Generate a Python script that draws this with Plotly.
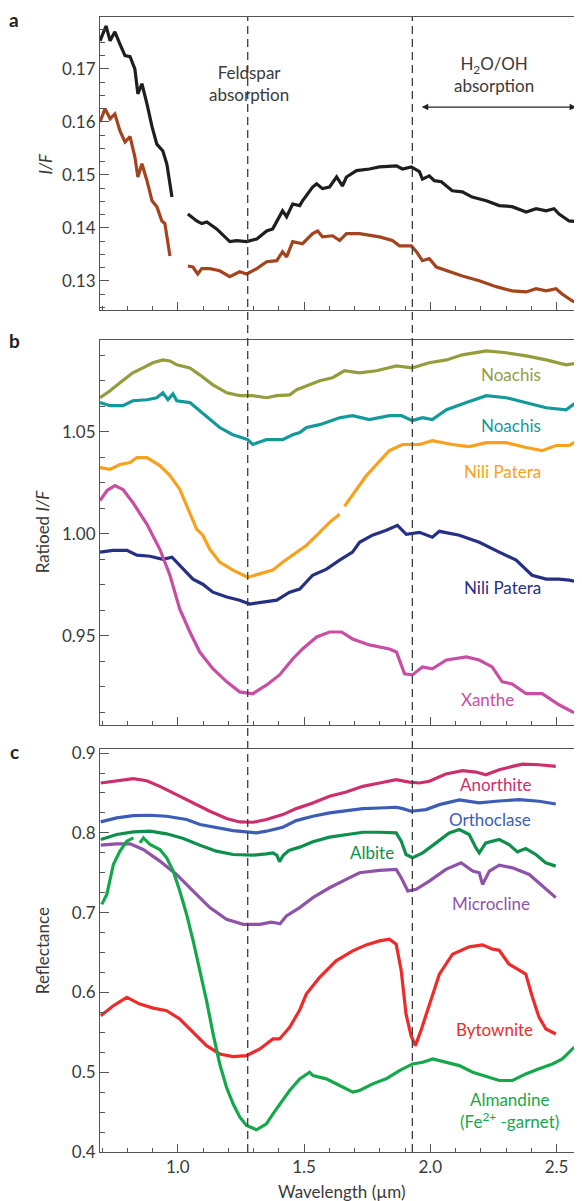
import plotly.graph_objects as go

# ---------------- Panel a : I/F ----------------
a_black_w = [0.692, 0.716, 0.732, 0.751, 0.771, 0.791, 0.811, 0.830, 0.842, 0.858, 0.878, 0.898, 0.917, 0.941, 0.957, 0.977,
             None,
             1.040, 1.075, 1.095, 1.115, 1.154, 1.206, 1.233, 1.273, 1.313, 1.352, 1.376, 1.415, 1.431, 1.455, 1.483, 1.494,
             1.534, 1.550, 1.573, 1.601, 1.629, 1.652, 1.668, 1.708, 1.759, 1.799, 1.866, 1.890, 1.925, 1.957, 1.969, 1.996,
             2.016, 2.044, 2.064, 2.087, 2.127, 2.166, 2.222, 2.273, 2.324, 2.380, 2.419, 2.459, 2.490, 2.510, 2.550, 2.590]
a_black_v = [0.1753, 0.1781, 0.1753, 0.1770, 0.1747, 0.1725, 0.1723, 0.1700, 0.1653, 0.1672, 0.1634, 0.1591, 0.1558, 0.1545, 0.1520, 0.1458,
             None,
             0.1426, 0.1413, 0.1408, 0.1411, 0.1398, 0.1374, 0.1376, 0.1374, 0.1379, 0.1394, 0.1398, 0.1432, 0.1421, 0.1445, 0.1442, 0.1451,
             0.1477, 0.1483, 0.1474, 0.1477, 0.1496, 0.1479, 0.1496, 0.1508, 0.1511, 0.1515, 0.1517, 0.1511, 0.1515, 0.1506, 0.1492, 0.1498,
             0.1489, 0.1487, 0.1479, 0.1470, 0.1468, 0.1458, 0.1451, 0.1442, 0.1440, 0.1430, 0.1436, 0.1432, 0.1436, 0.1426, 0.1413, 0.1411]

a_brown_w = [0.692, 0.712, 0.732, 0.751, 0.771, 0.791, 0.811, 0.830, 0.842, 0.858, 0.878, 0.898, 0.917, 0.937, 0.949, 0.969,
             None,
             1.040, 1.060, 1.079, 1.095, 1.127, 1.166, 1.206, 1.245, 1.273, 1.313, 1.352, 1.392, 1.415, 1.431, 1.455, 1.494,
             1.534, 1.554, 1.573, 1.613, 1.641, 1.668, 1.720, 1.799, 1.850, 1.878, 1.925, 1.945, 1.969, 1.996, 2.024, 2.064,
             2.127, 2.194, 2.261, 2.324, 2.380, 2.419, 2.459, 2.498, 2.522, 2.562, 2.590]
a_brown_v = [0.1600, 0.1625, 0.1606, 0.1615, 0.1583, 0.1562, 0.1572, 0.1534, 0.1496, 0.1521, 0.1489, 0.1451, 0.1440, 0.1413, 0.1408, 0.1347,
             None,
             0.1328, 0.1326, 0.1313, 0.1323, 0.1323, 0.1319, 0.1308, 0.1317, 0.1313, 0.1323, 0.1336, 0.1338, 0.1355, 0.1345, 0.1374, 0.1370,
             0.1389, 0.1394, 0.1383, 0.1385, 0.1376, 0.1389, 0.1389, 0.1383, 0.1376, 0.1366, 0.1366, 0.1355, 0.1338, 0.1342, 0.1326, 0.1319,
             0.1309, 0.1300, 0.1289, 0.1281, 0.1279, 0.1285, 0.1281, 0.1285, 0.1275, 0.1262, 0.1257]

# ---------------- Panel b : ratioed I/F ----------------
b_noachis1_w = [0.692, 0.732, 0.771, 0.822, 0.862, 0.901, 0.941, 0.969, 0.996, 1.048, 1.087, 1.139, 1.194, 1.245, 1.297, 1.352,
                1.392, 1.443, 1.471, 1.510, 1.562, 1.613, 1.660, 1.720, 1.787, 1.866, 1.929, 1.996, 2.064, 2.127, 2.222, 2.301,
                2.380, 2.459, 2.538, 2.590]
b_noachis1_v = [1.0666, 1.0700, 1.0739, 1.0788, 1.0812, 1.0837, 1.0851, 1.0846, 1.0827, 1.0812, 1.0778, 1.0729, 1.0690, 1.0676, 1.0676, 1.0666,
                1.0676, 1.0680, 1.0705, 1.0725, 1.0749, 1.0764, 1.0798, 1.0788, 1.0798, 1.0822, 1.0812, 1.0837, 1.0851, 1.0876, 1.0895, 1.0886,
                1.0871, 1.0851, 1.0827, 1.0837]

b_noachis2_w = [0.692, 0.732, 0.783, 0.822, 0.878, 0.917, 0.941, 0.961, 0.981, 0.996, 1.048, 1.087, 1.127, 1.166, 1.218, 1.277,
                1.297, 1.352, 1.415, 1.455, 1.483, 1.510, 1.562, 1.641, 1.692, 1.759, 1.838, 1.886, 1.929, 1.969, 2.008, 2.064,
                2.143, 2.222, 2.301, 2.380, 2.459, 2.538, 2.577, 2.590]
b_noachis2_v = [1.0642, 1.0627, 1.0627, 1.0651, 1.0656, 1.0666, 1.0690, 1.0656, 1.0685, 1.0651, 1.0642, 1.0602, 1.0559, 1.0520, 1.0485, 1.0461,
                1.0437, 1.0461, 1.0461, 1.0485, 1.0495, 1.0520, 1.0534, 1.0568, 1.0578, 1.0559, 1.0578, 1.0578, 1.0554, 1.0568, 1.0559, 1.0607,
                1.0642, 1.0676, 1.0666, 1.0642, 1.0617, 1.0607, 1.0642, 1.0622]

b_nili1_w = [0.692, 0.732, 0.771, 0.811, 0.838, 0.878, 0.929, 0.969, 1.008, 1.036, 1.075, 1.099, 1.127, 1.166, 1.218, 1.277,
             1.324, 1.376, 1.415, 1.443, 1.483, 1.510, 1.562, 1.601, 1.641,
             None,
             1.660, 1.708, 1.747, 1.787, 1.838, 1.890, 1.957, 2.008, 2.087, 2.154, 2.222, 2.301, 2.380, 2.443, 2.498, 2.550, 2.590]
b_nili1_v = [1.0324, 1.0315, 1.0339, 1.0349, 1.0373, 1.0373, 1.0334, 1.0285, 1.0217, 1.0139, 1.0022, 0.9993, 0.9924, 0.9861, 0.9822, 0.9787,
             0.9802, 0.9822, 0.9861, 0.9885, 0.9924, 0.9944, 1.0007, 1.0056, 1.0095,
             None,
             1.0134, 1.0217, 1.0285, 1.0339, 1.0407, 1.0437, 1.0437, 1.0456, 1.0437, 1.0427, 1.0446, 1.0446, 1.0422, 1.0407, 1.0432, 1.0432, 1.0461]

b_nili2_w = [0.692, 0.743, 0.799, 0.838, 0.890, 0.941, 0.977, 1.008, 1.060, 1.099, 1.139, 1.194, 1.245, 1.285, 1.336, 1.392,
             1.443, 1.483, 1.534, 1.589, 1.641, 1.692, 1.720, 1.771, 1.826, 1.870, 1.905, 1.957, 2.008, 2.036, 2.115, 2.194,
             2.273, 2.340, 2.403, 2.459, 2.510, 2.550, 2.590]
b_nili2_v = [0.9910, 0.9919, 0.9919, 0.9895, 0.9890, 0.9875, 0.9885, 0.9846, 0.9778, 0.9753, 0.9714, 0.9690, 0.9675, 0.9656, 0.9666, 0.9675,
             0.9714, 0.9729, 0.9797, 0.9827, 0.9871, 0.9910, 0.9958, 0.9993, 1.0017, 1.0041, 0.9997, 1.0007, 0.9983, 1.0012, 0.9993, 0.9958,
             0.9910, 0.9871, 0.9797, 0.9778, 0.9778, 0.9773, 0.9763]

b_xanthe_w = [0.692, 0.720, 0.751, 0.783, 0.822, 0.878, 0.929, 0.969, 1.008, 1.048, 1.087, 1.139, 1.194, 1.245, 1.297, 1.352,
              1.403, 1.455, 1.494, 1.550, 1.601, 1.649, 1.692, 1.759, 1.838, 1.866, 1.898, 1.929, 1.969, 2.008, 2.064, 2.143,
              2.194, 2.245, 2.285, 2.324, 2.380, 2.443, 2.510, 2.562, 2.590]
b_xanthe_v = [1.0163, 1.0212, 1.0236, 1.0217, 1.0153, 1.0046, 0.9924, 0.9797, 0.9631, 0.9519, 0.9421, 0.9339, 0.9275, 0.9226, 0.9217, 0.9260,
              0.9309, 0.9387, 0.9436, 0.9495, 0.9519, 0.9519, 0.9485, 0.9456, 0.9436, 0.9421, 0.9314, 0.9309, 0.9348, 0.9339, 0.9382, 0.9397,
              0.9382, 0.9348, 0.9275, 0.9265, 0.9217, 0.9217, 0.9163, 0.9129, 0.9119]

# ---------------- Panel c : laboratory reflectance ----------------
c_anorthite_w = [0.695, 0.758, 0.824, 0.877, 0.929, 0.995, 1.061, 1.127, 1.193, 1.245, 1.298, 1.351, 1.416, 1.469, 1.535, 1.601,
                 1.667, 1.733, 1.799, 1.865, 1.917, 1.957, 1.996, 2.062, 2.128, 2.181, 2.220, 2.273, 2.326, 2.365, 2.431, 2.497]
c_anorthite_v = [0.8625, 0.8654, 0.8679, 0.8654, 0.8583, 0.8479, 0.8375, 0.8271, 0.8179, 0.8137, 0.8133, 0.8167, 0.8229, 0.8304, 0.8375, 0.8458,
                 0.8512, 0.8583, 0.8625, 0.8667, 0.8637, 0.8625, 0.8646, 0.8738, 0.8779, 0.8762, 0.8729, 0.8792, 0.8833, 0.8862, 0.8854, 0.8833]

c_orthoclase_w = [0.695, 0.758, 0.824, 0.890, 0.956, 1.035, 1.088, 1.153, 1.219, 1.272, 1.312, 1.351, 1.416, 1.469, 1.535, 1.601,
                  1.667, 1.733, 1.799, 1.865, 1.891, 1.924, 1.983, 2.036, 2.115, 2.194, 2.260, 2.352, 2.431, 2.497]
c_orthoclase_v = [0.8138, 0.8188, 0.8217, 0.8221, 0.8208, 0.8167, 0.8104, 0.8063, 0.8029, 0.8013, 0.8000, 0.8021, 0.8071, 0.8154, 0.8208, 0.8250,
                  0.8279, 0.8304, 0.8312, 0.8321, 0.8304, 0.8271, 0.8292, 0.8354, 0.8412, 0.8375, 0.8396, 0.8417, 0.8396, 0.8362]

c_albite_w = [0.695, 0.758, 0.824, 0.890, 0.956, 1.022, 1.088, 1.153, 1.219, 1.298, 1.351, 1.377, 1.392, 1.403, 1.418, 1.440,
              1.483, 1.535, 1.601, 1.667, 1.733, 1.799, 1.865, 1.885, 1.904, 1.930, 1.970, 2.023, 2.075, 2.115, 2.154, 2.181,
              2.194, 2.220, 2.273, 2.312, 2.345, 2.378, 2.418, 2.457, 2.497]
c_albite_v = [0.7917, 0.7979, 0.8013, 0.8021, 0.7988, 0.7929, 0.7846, 0.7771, 0.7729, 0.7721, 0.7737, 0.7750, 0.7720, 0.7640, 0.7720, 0.7780,
              0.7821, 0.7888, 0.7946, 0.7979, 0.8008, 0.8008, 0.8000, 0.7896, 0.7729, 0.7688, 0.7750, 0.7875, 0.8000, 0.8042, 0.7979, 0.7812,
              0.7750, 0.7875, 0.7917, 0.7854, 0.7762, 0.7804, 0.7729, 0.7625, 0.7583]

c_microcline_w = [0.695, 0.758, 0.811, 0.863, 0.929, 0.995, 1.061, 1.127, 1.193, 1.259, 1.325, 1.370, 1.390, 1.405, 1.430, 1.483,
                  1.535, 1.601, 1.667, 1.720, 1.799, 1.865, 1.885, 1.911, 1.944, 1.996, 2.062, 2.122, 2.168, 2.194, 2.207, 2.234,
                  2.273, 2.326, 2.392, 2.444, 2.497]
c_microcline_v = [0.7846, 0.7862, 0.7862, 0.7792, 0.7646, 0.7479, 0.7271, 0.7063, 0.6917, 0.6854, 0.6854, 0.6880, 0.6870, 0.6860, 0.6958, 0.7063,
                  0.7188, 0.7312, 0.7417, 0.7500, 0.7529, 0.7542, 0.7437, 0.7271, 0.7292, 0.7396, 0.7542, 0.7625, 0.7521, 0.7500, 0.7354, 0.7521,
                  0.7596, 0.7562, 0.7479, 0.7333, 0.7188]

c_bytownite_w = [0.695, 0.745, 0.798, 0.850, 0.903, 0.956, 1.008, 1.061, 1.114, 1.166, 1.219, 1.272, 1.325, 1.377, 1.403, 1.443,
                 1.483, 1.509, 1.561, 1.627, 1.693, 1.746, 1.799, 1.838, 1.865, 1.885, 1.904, 1.924, 1.941, 1.963, 1.996, 2.036,
                 2.088, 2.154, 2.207, 2.247, 2.273, 2.312, 2.352, 2.378, 2.405, 2.431, 2.458, 2.497]
c_bytownite_v = [0.5708, 0.5833, 0.5938, 0.5854, 0.5804, 0.5771, 0.5667, 0.5500, 0.5333, 0.5229, 0.5196, 0.5208, 0.5292, 0.5417, 0.5417, 0.5562,
                 0.5780, 0.5979, 0.6187, 0.6396, 0.6521, 0.6596, 0.6646, 0.6667, 0.6604, 0.6271, 0.5729, 0.5458, 0.5333, 0.5521, 0.5854, 0.6229,
                 0.6479, 0.6571, 0.6596, 0.6542, 0.6529, 0.6354, 0.6279, 0.6229, 0.5937, 0.5687, 0.5542, 0.5479]

c_almandine_w = [0.699, 0.719, 0.745, 0.771, 0.798, 0.824, None, 0.850, 0.864, 0.890, 0.929, 0.956, 0.982, 1.008, 1.035, 1.061,
                 1.088, 1.114, 1.140, 1.166, 1.193, 1.219, 1.246, 1.272, 1.312, 1.351, 1.377, 1.416, 1.443, 1.483, 1.522, 1.535,
                 1.588, 1.641, 1.693, 1.720, 1.772, 1.825, 1.878, 1.930, 1.970, 2.010, 2.062, 2.115, 2.168, 2.207, 2.273, 2.326,
                 2.378, 2.431, 2.484, 2.523, 2.563, 2.590]
c_almandine_v = [0.7104, 0.7229, 0.7604, 0.7771, 0.7896, 0.7937, None, 0.7875, 0.7937, 0.7854, 0.7792, 0.7687, 0.7521, 0.7271, 0.6979, 0.6646,
                 0.6271, 0.5896, 0.5479, 0.5104, 0.4812, 0.4604, 0.4437, 0.4333, 0.4279, 0.4354, 0.4479, 0.4646, 0.4771, 0.4915, 0.5000, 0.4958,
                 0.4917, 0.4833, 0.4750, 0.4771, 0.4854, 0.4917, 0.5021, 0.5104, 0.5125, 0.5167, 0.5125, 0.5083, 0.5000, 0.4958, 0.4896, 0.4896,
                 0.4979, 0.5042, 0.5104, 0.5167, 0.5292, 0.5354]

feldspar_band = 1.277
water_band = 1.929

FONT = "Lato, 'Open Sans', sans-serif"
AX = "#555555"
TXT = "#3a3a3a"

fig = go.Figure()


def add(w, v, color, panel):
    fig.add_trace(go.Scatter(x=w, y=v, mode="lines", line=dict(color=color, width=3.2),
                             xaxis="x" if panel == 1 else f"x{panel}",
                             yaxis="y" if panel == 1 else f"y{panel}",
                             showlegend=False, hoverinfo="skip", connectgaps=False))


add(a_black_w, a_black_v, "#1e1e1e", 1)
add(a_brown_w, a_brown_v, "#a4441f", 1)

add(b_noachis1_w, b_noachis1_v, "#959c3e", 2)
add(b_noachis2_w, b_noachis2_v, "#14999a", 2)
add(b_nili1_w, b_nili1_v, "#f8a11c", 2)
add(b_nili2_w, b_nili2_v, "#252f84", 2)
add(b_xanthe_w, b_xanthe_v, "#c74ea3", 2)

add(c_anorthite_w, c_anorthite_v, "#cc2f6c", 3)
add(c_orthoclase_w, c_orthoclase_v, "#3d5db5", 3)
add(c_albite_w, c_albite_v, "#0f8f4d", 3)
add(c_microcline_w, c_microcline_v, "#8e53a9", 3)
add(c_bytownite_w, c_bytownite_v, "#ee2b2b", 3)
add(c_almandine_w, c_almandine_v, "#15a84b", 3)

XR = [0.692, 2.589]


def xax(anchor, labels):
    return dict(range=XR, anchor=anchor, showline=True, linecolor=AX, linewidth=1, mirror=True,
                ticks="inside", ticklen=8, tickcolor=AX, tickwidth=1, tick0=0, dtick=0.5,
                showgrid=False, zeroline=False, showticklabels=labels,
                tickformat=".1f", tickfont=dict(family=FONT, size=17, color=TXT),
                minor=dict(ticks="inside", ticklen=4, tickcolor=AX, tick0=0, dtick=0.1, showgrid=False))


def yax(anchor, dom, rng, dt, mdt, t0, fmt):
    return dict(domain=dom, range=rng, anchor=anchor, showline=True, linecolor=AX, linewidth=1, mirror=True,
                ticks="inside", ticklen=9, tickcolor=AX, tickwidth=1, tick0=t0, dtick=dt,
                showgrid=False, zeroline=False, tickformat=fmt,
                tickfont=dict(family=FONT, size=17, color=TXT),
                minor=dict(ticks="inside", ticklen=5, tickcolor=AX, tick0=t0, dtick=mdt, showgrid=False))


# the page body has an 8px default margin, so the figure is sized/offset to compensate
fig.update_layout(
    width=574, height=1193,
    margin=dict(l=92, r=2, t=5, b=49),
    paper_bgcolor="white", plot_bgcolor="white",
    font=dict(family=FONT, color=TXT),
    xaxis=xax("y", False),
    xaxis2=xax("y2", False),
    xaxis3=xax("y3", True),
    yaxis=yax("x", [0.7419, 1.0], [0.1245, 0.1798], 0.01, 0.0025, 0.13, ".2f"),
    yaxis2=yax("x2", [0.3766, 0.7155], [0.9066, 1.0949], 0.05, 0.0125, 0.95, ".2f"),
    yaxis3=yax("x3", [0.0, 0.3547], [0.4, 0.9046], 0.1, 0.025, 0.4, ".1f"),
)

# dashed band lines through all panels
for xb in (feldspar_band, water_band):
    fig.add_shape(type="line", xref="x3", yref="paper", x0=xb, x1=xb, y0=0, y1=1,
                  line=dict(color="#3c3c3c", width=1.3, dash="8px,5px"), layer="above")

ann = []
# panel letters
for letter, yy in (("a", 0.998), ("b", 0.7147), ("c", 0.353)):
    ann.append(dict(text=f"<b>{letter}</b>", xref="paper", yref="paper", x=-0.179, y=yy,
                    xanchor="center", yanchor="middle", showarrow=False,
                    font=dict(family=FONT, size=19, color="#222222")))
# axis titles
ann.append(dict(text="<i>I/F</i>", xref="paper", yref="paper", x=-0.1146, y=0.871, textangle=-90,
                showarrow=False, xanchor="center", yanchor="middle", font=dict(family=FONT, size=17, color=TXT)))
ann.append(dict(text="Ratioed <i>I/F</i>", xref="paper", yref="paper", x=-0.121, y=0.546, textangle=-90,
                showarrow=False, xanchor="center", yanchor="middle", font=dict(family=FONT, size=17, color=TXT)))
ann.append(dict(text="Reflectance", xref="paper", yref="paper", x=-0.121, y=0.177, textangle=-90,
                showarrow=False, xanchor="center", yanchor="middle", font=dict(family=FONT, size=17, color=TXT)))
ann.append(dict(text="Wavelength (µm)", xref="paper", yref="paper", x=0.504, y=-0.035,
                showarrow=False, xanchor="center", yanchor="middle", font=dict(family=FONT, size=17, color=TXT)))

# panel a notes
ann.append(dict(text="Feldspar<br>absorption", xref="x", yref="y", x=1.281, y=0.1672, showarrow=False,
                xanchor="center", yanchor="middle", font=dict(family=FONT, size=17, color=TXT)))
ann.append(dict(text="H<sub>2</sub>O/OH<br>absorption", xref="x", yref="y", x=2.253, y=0.1689, showarrow=False,
                xanchor="center", yanchor="middle", font=dict(family=FONT, size=17, color=TXT)))
ann.append(dict(text="", xref="x", yref="y", x=2.578, y=0.1628, ax=1.960, ay=0.1628, axref="x", ayref="y",
                showarrow=True, arrowside="end+start", arrowhead=2, arrowsize=1.1, arrowwidth=1.2,
                arrowcolor="#222222"))

# panel b labels
for txt, x, y, col in (("Noachis", 2.320, 1.0778, "#959c3e"),
                       ("Noachis", 2.320, 1.0529, "#14999a"),
                       ("Nili Patera", 2.285, 1.0305, "#f8a11c"),
                       ("Nili Patera", 2.285, 0.9739, "#252f84"),
                       ("Xanthe", 2.226, 0.9187, "#c74ea3")):
    ann.append(dict(text=txt, xref="x2", yref="y2", x=x, y=y, showarrow=False, xanchor="center",
                    yanchor="middle", font=dict(family=FONT, size=17, color=col)))

# panel c labels
for txt, x, y, col in (("Anorthite", 2.261, 0.8609, "#cc2f6c"),
                       ("Orthoclase", 2.237, 0.8171, "#3d5db5"),
                       ("Albite", 1.771, 0.7760, "#0f8f4d"),
                       ("Microcline", 2.241, 0.7110, "#8e53a9"),
                       ("Bytownite", 2.253, 0.5534, "#ee2b2b"),
                       ("Almandine<br>(Fe<sup>2+</sup> -garnet)", 2.313, 0.4520, "#15a84b")):
    ann.append(dict(text=txt, xref="x3", yref="y3", x=x, y=y, showarrow=False, xanchor="center",
                    yanchor="middle", font=dict(family=FONT, size=17, color=col)))

fig.update_layout(annotations=ann)
fig.write_html("out.html")
